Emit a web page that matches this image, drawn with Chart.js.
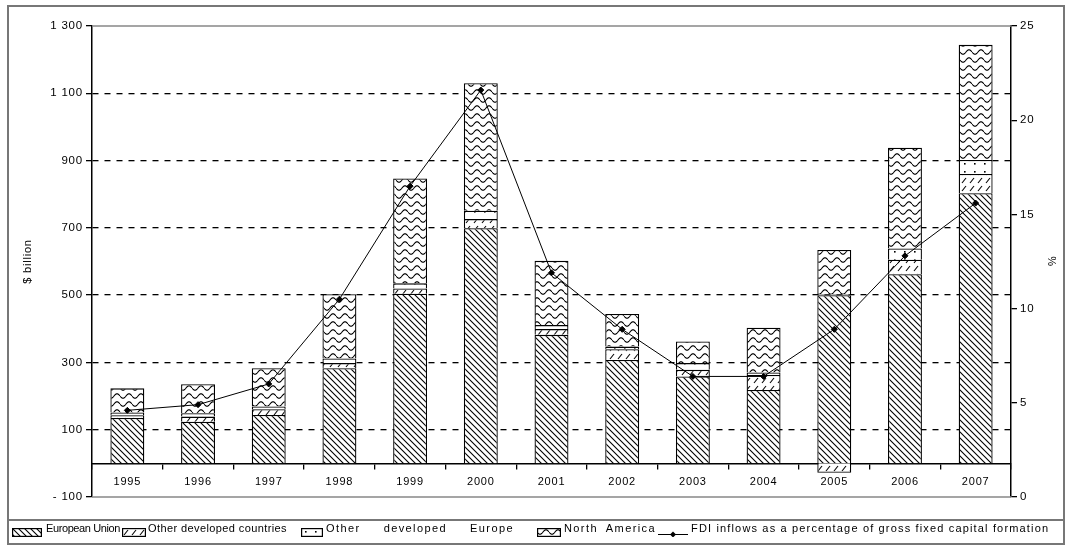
<!DOCTYPE html>
<html>
<head>
<meta charset="utf-8">
<script src="https://cdn.jsdelivr.net/npm/chart.js@4/dist/chart.umd.min.js"></script>
<style>
  body { margin: 0; background: #fff; font-family: "Liberation Sans", Arial, sans-serif; }
  #wrap { position: relative; width: 1069px; height: 546px; overflow: hidden; }
  #chart { position: absolute; left: 0; top: 0; }
  #frame { position: absolute; left: 7px; top: 5px; width: 1058px; height: 540px; border: 2px solid #777; box-sizing: border-box; pointer-events: none; }
  #legendLine { position: absolute; left: 7px; top: 519px; width: 1058px; height: 2px; background: #777; }
  .lg-txt { position: absolute; top: 522px; font-size: 11px; line-height: 12px; color: #000; letter-spacing: 0; white-space: nowrap; }
  .lg-sw { position: absolute; top: 528px; }
</style>
</head>
<body>
<div id="wrap">
  <canvas id="chart" width="1069" height="546"></canvas>
  <div id="frame"></div>
  <div id="legendLine"></div>
  <canvas class="lg-sw" id="sw-eu" width="30" height="9" style="left:12px"></canvas>
  <span class="lg-txt" data-w="72" style="left:46px">European Union</span>
  <canvas class="lg-sw" id="sw-odc" width="24" height="9" style="left:122px"></canvas>
  <span class="lg-txt" data-w="139" style="left:148px">Other developed countries</span>
  <canvas class="lg-sw" id="sw-ode" width="22" height="9" style="left:301px"></canvas>
  <span class="lg-txt" data-w="188" style="left:326px">Other developed Europe</span>
  <canvas class="lg-sw" id="sw-na" width="24" height="9" style="left:537px"></canvas>
  <span class="lg-txt" data-w="92" style="left:564px">North America</span>
  <canvas class="lg-sw" id="sw-line" width="30" height="9" style="left:658px"></canvas>
  <span class="lg-txt" data-w="358" style="left:691px">FDI inflows as a percentage of gross fixed capital formation</span>
</div>
<script>
// ==================== data ====================
const years = ['1995', '1996', '1997', '1998', '1999', '2000', '2001', '2002', '2003', '2004', '2005', '2006', '2007'];
const euValues = [135, 124, 144, 283, 504, 699, 382, 307, 258, 218, 500, 562, 803];
const otherCountriesValues = [8, 15, 17, 15, 16, 27, 17, 32, 20, 45, -28, 43, 57];
const otherEuropeValues = [8, 10, 8, 14, 15, 25, 12, 8, 20, 7, 3, 34, 42];
const northAmericaValues = [72, 86, 114, 191, 312, 379, 191, 97, 64, 133, 131, 299, 342];
const fdiShareValues = [4.6, 4.9, 6.0, 10.5, 16.5, 21.6, 11.9, 8.9, 6.4, 6.4, 8.9, 12.8, 15.6];

// ==================== hatch patterns ====================
function makePattern(kind) {
  const sizes = { eu: [6, 6], odc: [8, 8], ode: [10, 8], na: [12, 8] };
  const [w, h] = sizes[kind];
  const c = document.createElement('canvas');
  c.width = w; c.height = h;
  const g = c.getContext('2d');
  g.fillStyle = '#fff';
  g.fillRect(0, 0, w, h);
  g.strokeStyle = '#000';
  g.fillStyle = '#000';
  g.lineWidth = 1.1;
  g.beginPath();
  if (kind === 'eu') {
    g.moveTo(0, 0); g.lineTo(w, h);
    g.moveTo(-1, h - 1); g.lineTo(1, h + 1);
    g.moveTo(w - 1, -1); g.lineTo(w + 1, 1);
    g.stroke();
  } else if (kind === 'odc') {
    g.moveTo(2, 7); g.lineTo(6, 2);
    g.stroke();
  } else if (kind === 'ode') {
    g.fillRect(4, 3, 1.6, 1.6);
  } else if (kind === 'na') {
    for (let x = 0; x <= w; x += 0.5) {
      const y = 4 + 2.2 * Math.sin(x / w * 2 * Math.PI);
      if (x === 0) g.moveTo(x, y); else g.lineTo(x, y);
    }
    g.stroke();
  }
  return g.createPattern(c, 'repeat');
}
const patEU = makePattern('eu');
const patODC = makePattern('odc');
const patODE = makePattern('ode');
const patNA = makePattern('na');

// legend swatches + fit legend text to the reference widths
function swatch(id, pat) {
  const cv = document.getElementById(id);
  const g = cv.getContext('2d');
  g.fillStyle = pat;
  g.fillRect(0, 0, cv.width, cv.height);
  g.strokeStyle = '#000';
  g.lineWidth = 1.2;
  g.strokeRect(0.6, 0.6, cv.width - 1.2, cv.height - 1.2);
}
swatch('sw-eu', patEU);
swatch('sw-odc', patODC);
swatch('sw-ode', patODE);
swatch('sw-na', patNA);
(function () {
  const g = document.getElementById('sw-line').getContext('2d');
  g.strokeStyle = '#000'; g.lineWidth = 1;
  g.beginPath(); g.moveTo(0, 6.5); g.lineTo(30, 6.5); g.stroke();
  g.fillStyle = '#000';
  g.beginPath(); g.moveTo(15, 3.5); g.lineTo(18, 6.5); g.lineTo(15, 9.5); g.lineTo(12, 6.5); g.closePath(); g.fill();
})();
document.querySelectorAll('.lg-txt').forEach(el => {
  const target = +el.dataset.w;
  const natural = el.getBoundingClientRect().width;
  const text = el.textContent;
  const n = text.length;
  const gaps = (text.match(/ /g) || []).length;
  let ls = (target - natural) / n;
  ls = Math.max(-0.4, Math.min(1.4, ls));
  el.style.letterSpacing = ls.toFixed(2) + 'px';
  const rest = target - natural - ls * n;
  if (rest > 0 && gaps) el.style.wordSpacing = (rest / gaps).toFixed(2) + 'px';
});

// ==================== chart ====================
Chart.defaults.font.family = '"Liberation Sans", Arial, sans-serif';
Chart.defaults.font.size = 11;
Chart.defaults.color = '#000';

const fmtLeft = v => {
  const a = Math.abs(v);
  const s = a >= 1000 ? Math.floor(a / 1000) + ' ' + String(a % 1000).padStart(3, '0') : String(a);
  return v < 0 ? '- ' + s : s;
};

const plotFrame = {
  id: 'plotFrame',
  beforeDraw(chart) { chart.ctx.letterSpacing = '0.8px'; },
  afterDraw(chart) {
    const { ctx, chartArea: a } = chart;
    ctx.save();
    ctx.strokeStyle = '#888';
    ctx.lineWidth = 1.5;
    ctx.beginPath();
    ctx.moveTo(a.left, a.top); ctx.lineTo(a.right, a.top);
    ctx.moveTo(a.left, a.bottom); ctx.lineTo(a.right, a.bottom);
    ctx.stroke();
    ctx.restore();
  }
};

const barBase = { borderColor: '#000', borderWidth: 1.3, barPercentage: 0.48, categoryPercentage: 1, order: 1, yAxisID: 'y' };

new Chart(document.getElementById('chart'), {
  data: {
    labels: years,
    datasets: [
      { type: 'bar', label: 'European Union', data: euValues, backgroundColor: patEU, ...barBase },
      { type: 'bar', label: 'Other developed countries', data: otherCountriesValues, backgroundColor: patODC, ...barBase },
      { type: 'bar', label: 'Other developed Europe', data: otherEuropeValues, backgroundColor: patODE, ...barBase },
      { type: 'bar', label: 'North America', data: northAmericaValues, backgroundColor: patNA, ...barBase },
      { type: 'line', label: 'FDI inflows as a percentage of gross fixed capital formation', data: fdiShareValues, yAxisID: 'y1', order: 0,
        borderColor: '#000', borderWidth: 1, tension: 0, pointStyle: 'rectRot', pointRadius: 3, pointBackgroundColor: '#000', pointBorderColor: '#000' }
    ]
  },
  options: {
    responsive: false, animation: false,
    layout: { padding: { top: 26, bottom: 49, left: 0, right: 0 } },
    plugins: { legend: { display: false }, tooltip: { enabled: false } },
    scales: {
      x: {
        stacked: true, position: { y: 0 },
        grid: { drawOnChartArea: false, offset: true, tickLength: 5, color: '#000', lineWidth: 1.3 },
        border: { color: '#000', width: 1.5 },
        ticks: { padding: 7, color: '#000', font: { size: 11 } }
      },
      y: {
        stacked: true, position: 'left', min: -100, max: 1300,
        ticks: { stepSize: 200, callback: fmtLeft, padding: 3, color: '#000', font: { size: 11.5 } },
        grid: {
          color: ctx => (ctx.tick && (ctx.tick.value === -100 || ctx.tick.value === 1300)) ? 'rgba(0,0,0,0)' : '#000',
          tickColor: '#000', tickLength: 6, lineWidth: 1.3, tickWidth: 1.3
        },
        border: { color: '#000', width: 1.5, dash: [6, 6] },
        title: { display: true, text: '$ billion', color: '#000', font: { size: 11 }, padding: { top: 21, bottom: 0 } },
        afterFit: s => { s.width = 92; }
      },
      y1: {
        position: 'right', min: 0, max: 25, stacked: false,
        ticks: { stepSize: 5, padding: 3, color: '#000', font: { size: 11.5 } },
        grid: { drawOnChartArea: false, tickLength: 6, color: '#000', lineWidth: 1.3 },
        border: { color: '#000', width: 1.5 },
        title: { display: true, text: '%', color: '#000', font: { size: 11 }, padding: { top: 11, bottom: 0 } },
        afterFit: s => { s.width = 58; }
      }
    }
  },
  plugins: [plotFrame]
});
</script>
</body>
</html>
